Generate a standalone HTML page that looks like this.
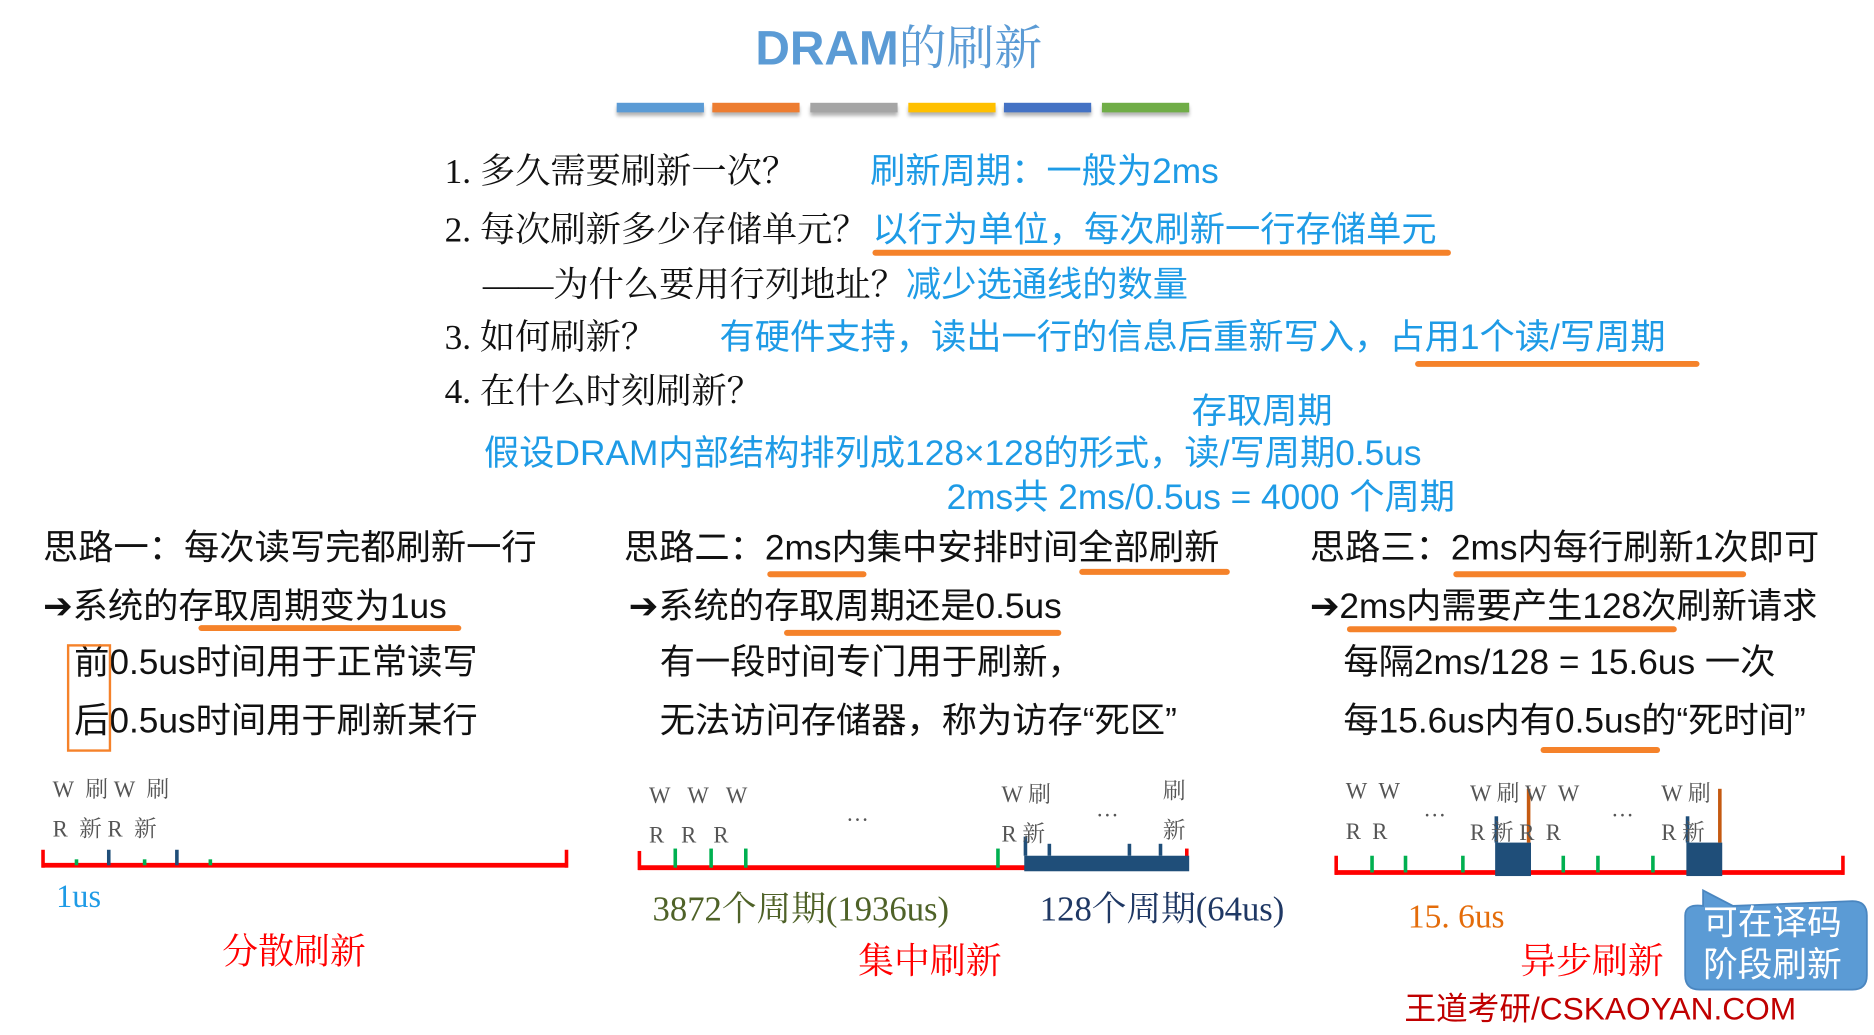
<!DOCTYPE html>
<html><head><meta charset="utf-8">
<style>
html,body{margin:0;padding:0;background:#fff;}
body{width:1874px;height:1035px;overflow:hidden;position:relative;}
#s{position:absolute;left:0;top:0;width:1568px;height:866px;transform:scale(1.19516);transform-origin:0 0;}
.t{position:absolute;white-space:nowrap;font-size:29.5px;line-height:34px;color:#111;font-family:"Liberation Sans","Noto Sans CJK SC",sans-serif;}
.sf{font-family:"Liberation Serif","Noto Serif CJK SC",serif;}
.b{color:#1e9be6;}
.ul{position:absolute;height:5px;background:#f5822a;border-radius:3px;}
.bar{position:absolute;top:86px;width:73px;height:8px;box-shadow:0 3px 3px rgba(0,0,0,.3);}
.sm{position:absolute;font-family:"Liberation Serif","Noto Serif CJK SC",serif;font-size:19px;color:#555;line-height:20px;}
</style></head><body>
<div id="s">
<div class="t" style="left:632px;top:18px;font-size:40px;line-height:46px;color:#5b9bd5;"><b>DRAM</b><span class="sf">的刷新</span></div>
<div class="bar" style="left:516px;background:#5b9bd5"></div>
<div class="bar" style="left:596px;background:#ed7d31"></div>
<div class="bar" style="left:678px;background:#a5a5a5"></div>
<div class="bar" style="left:760px;background:#ffc000"></div>
<div class="bar" style="left:840px;background:#4472c4"></div>
<div class="bar" style="left:922px;background:#70ad47"></div>

<div class="t sf" style="left:372px;top:127px;">1. 多久需要刷新一次？</div>
<div class="t b" style="left:728px;top:127px;">刷新周期：一般为2ms</div>
<div class="t sf" style="left:372px;top:176px;">2. 每次刷新多少存储单元？</div>
<div class="t b" style="left:730px;top:176px;">以行为单位，每次刷新一行存储单元</div>
<div class="ul" style="left:730px;top:209px;width:484px"></div>
<div class="t sf" style="left:404px;top:222px;">——为什么要用行列地址？</div>
<div class="t b" style="left:758px;top:222px;">减少选通线的数量</div>
<div class="t sf" style="left:372px;top:266px;">3. 如何刷新？</div>
<div class="t b" style="left:602px;top:266px;">有硬件支持，读出一行的信息后重新写入，占用1个读/写周期</div>
<div class="ul" style="left:1184px;top:302px;width:238px"></div>
<div class="t sf" style="left:372px;top:311px;">4. 在什么时刻刷新？</div>
<div class="t b" style="left:997px;top:328px;">存取周期</div>
<div class="t b" style="left:405px;top:363px;">假设DRAM内部结构排列成128×128的形式，读/写周期0.5us</div>
<div class="t b" style="left:792px;top:400px;">2ms共 2ms/0.5us = 4000 个周期</div>

<div class="t" style="left:36px;top:442px;">思路一：每次读写完都刷新一行</div>
<div class="t" style="left:36px;top:491px;">➔系统的存取周期变为1us</div>
<div class="ul" style="left:166px;top:523px;width:220px"></div>
<div class="t" style="left:62px;top:538px;">前0.5us时间用于正常读写</div>
<div class="t" style="left:62px;top:587px;">后0.5us时间用于刷新某行</div>
<div style="position:absolute;left:56px;top:539px;width:33px;height:86px;border:2px solid #f5822a;"></div>

<div class="t" style="left:522px;top:442px;">思路二：2ms内集中安排时间全部刷新</div>
<div class="ul" style="left:642px;top:478px;width:83px"></div>
<div class="ul" style="left:903px;top:476px;width:126px"></div>
<div class="t" style="left:526px;top:491px;">➔系统的存取周期还是0.5us</div>
<div class="ul" style="left:656px;top:527px;width:232px"></div>
<div class="t" style="left:552px;top:538px;">有一段时间专门用于刷新，</div>
<div class="t" style="left:552px;top:587px;">无法访问存储器，称为访存“死区”</div>

<div class="t" style="left:1096px;top:442px;">思路三：2ms内每行刷新1次即可</div>
<div class="ul" style="left:1216px;top:478px;width:245px"></div>
<div class="t" style="left:1096px;top:491px;">➔2ms内需要产生128次刷新请求</div>
<div class="ul" style="left:1127px;top:524px;width:276px"></div>
<div class="t" style="left:1124px;top:538px;">每隔2ms/128 = 15.6us 一次</div>
<div class="t" style="left:1124px;top:587px;">每15.6us内有0.5us的“死时间”</div>
<div class="ul" style="left:1289px;top:625px;width:100px"></div>

<svg style="position:absolute;left:0;top:0" width="1568" height="866">
 <g>
  <line x1="35" y1="724" x2="475" y2="724" stroke="#f00" stroke-width="4"/>
  <line x1="36" y1="711" x2="36" y2="726" stroke="#f00" stroke-width="3"/>
  <line x1="474" y1="711" x2="474" y2="726" stroke="#f00" stroke-width="3"/>
  <g stroke="#00b050" stroke-width="3"><line x1="64" y1="719" x2="64" y2="724"/><line x1="121" y1="719" x2="121" y2="724"/><line x1="176" y1="719" x2="176" y2="724"/></g>
  <g stroke="#1f4e79" stroke-width="3"><line x1="91" y1="711" x2="91" y2="724"/><line x1="148" y1="711" x2="148" y2="724"/></g>
 </g>
 <g>
  <line x1="534" y1="726" x2="858" y2="726" stroke="#f00" stroke-width="4"/>
  <line x1="535" y1="712" x2="535" y2="728" stroke="#f00" stroke-width="3"/>
  <line x1="993" y1="710" x2="993" y2="728" stroke="#f00" stroke-width="3"/>
  <g stroke="#00b050" stroke-width="3"><line x1="565" y1="710" x2="565" y2="726"/><line x1="595" y1="710" x2="595" y2="726"/><line x1="624" y1="710" x2="624" y2="726"/><line x1="835" y1="710" x2="835" y2="726"/></g>
  <rect x="857" y="716" width="138" height="13" fill="#1f4e79"/>
  <g stroke="#1f4e79" stroke-width="3"><line x1="858" y1="700" x2="858" y2="716"/><line x1="878" y1="706" x2="878" y2="716"/><line x1="945" y1="706" x2="945" y2="716"/><line x1="971" y1="706" x2="971" y2="716"/></g>
 </g>
 <g>
  <line x1="1117" y1="730" x2="1543" y2="730" stroke="#f00" stroke-width="4"/>
  <line x1="1118" y1="716" x2="1118" y2="732" stroke="#f00" stroke-width="3"/>
  <line x1="1542" y1="716" x2="1542" y2="732" stroke="#f00" stroke-width="3"/>
  <g stroke="#00b050" stroke-width="3"><line x1="1148" y1="716" x2="1148" y2="730"/><line x1="1176" y1="716" x2="1176" y2="730"/><line x1="1224" y1="716" x2="1224" y2="730"/><line x1="1308" y1="716" x2="1308" y2="730"/><line x1="1337" y1="716" x2="1337" y2="730"/><line x1="1383" y1="716" x2="1383" y2="730"/></g>
  <rect x="1251" y="705" width="30" height="28" fill="#1f4e79"/>
  <rect x="1411" y="705" width="30" height="28" fill="#1f4e79"/>
  <g stroke="#1f4e79" stroke-width="3"><line x1="1252" y1="683" x2="1252" y2="705"/><line x1="1412" y1="683" x2="1412" y2="705"/></g>
  <g stroke="#c55a11" stroke-width="3"><line x1="1279" y1="660" x2="1279" y2="705"/><line x1="1439" y1="660" x2="1439" y2="705"/></g>
 </g>
 <path d="M1425,745 L1450,758 L1550,754 Q1562,754 1562,766 L1562,816 Q1562,828 1550,828 L1422,828 Q1410,828 1410,816 L1410,766 Q1410,756 1425,758 Z" fill="#5b9bd5" stroke="#4a86c0" stroke-width="1.5"/>
</svg>

<div class="sm" style="left:44px;top:652px;">W&nbsp;&nbsp;刷 W&nbsp;&nbsp;刷</div>
<div class="sm" style="left:44px;top:685px;">R&nbsp;&nbsp;新 R&nbsp;&nbsp;新</div>
<div class="sm" style="left:543px;top:657px;">W&nbsp;&nbsp;&nbsp;W&nbsp;&nbsp;&nbsp;W</div>
<div class="sm" style="left:543px;top:690px;">R&nbsp;&nbsp;&nbsp;R&nbsp;&nbsp;&nbsp;R</div>
<div class="sm" style="left:708px;top:672px;">…</div>
<div class="sm" style="left:917px;top:668px;">…</div>
<div class="sm" style="left:838px;top:656px;">W 刷</div>
<div class="sm" style="left:838px;top:689px;">R 新</div>
<div class="sm" style="left:973px;top:653px;">刷</div>
<div class="sm" style="left:973px;top:686px;">新</div>
<div class="sm" style="left:1126px;top:653px;">W&nbsp;&nbsp;W</div>
<div class="sm" style="left:1126px;top:687px;">R&nbsp;&nbsp;R</div>
<div class="sm" style="left:1191px;top:668px;">…</div>
<div class="sm" style="left:1348px;top:668px;">…</div>
<div class="sm" style="left:1230px;top:655px;">W 刷 W&nbsp;&nbsp;W</div>
<div class="sm" style="left:1230px;top:688px;">R 新 R&nbsp;&nbsp;R</div>
<div class="sm" style="left:1390px;top:655px;">W 刷</div>
<div class="sm" style="left:1390px;top:688px;">R 新</div>

<div class="t sf" style="left:47px;top:733px;font-size:27px;color:#1e9be6;">1us</div>
<div class="t sf" style="left:546px;top:744px;font-size:29px;color:#4f6228;">3872个周期(1936us)</div>
<div class="t sf" style="left:870px;top:744px;font-size:29px;color:#1f3864;">128个周期(64us)</div>
<div class="t sf" style="left:1178px;top:751px;font-size:28px;color:#e46c0a;">15. 6us</div>
<div class="t sf" style="left:186px;top:780px;font-size:30px;color:#f00;">分散刷新</div>
<div class="t sf" style="left:718px;top:788px;font-size:30px;color:#f00;">集中刷新</div>
<div class="t sf" style="left:1272px;top:788px;font-size:30px;color:#f00;">异步刷新</div>
<div class="t" style="left:1425px;top:756px;font-size:29px;line-height:35px;color:#fff;">可在译码<br>阶段刷新</div>
<div class="t" style="left:1175px;top:827px;font-size:26.5px;color:#c00000;">王道考研/CSKAOYAN.COM</div>
</div>
</body></html>
